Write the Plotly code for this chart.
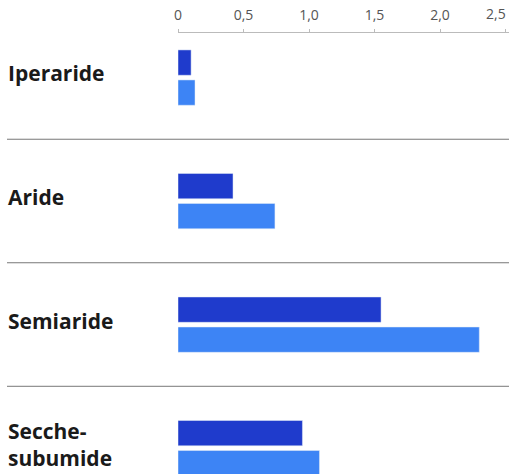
import plotly.graph_objects as go

categories = ["Iperaride", "Aride", "Semiaride", "Secche-<br>subumide"]
series_a = [0.10, 0.42, 1.55, 0.95]
series_b = [0.13, 0.74, 2.30, 1.08]
tick_vals = [0, 0.5, 1.0, 1.5, 2.0, 2.5]
tick_text = ["0", "0,5", "1,0", "1,5", "2,0", "2,5"]

dark = "#1f3bcc"
light = "#3d84f5"
tick_font = dict(family="Open Sans", size=14, color="#555555")

ypos = list(range(len(categories)))

fig = go.Figure()
fig.add_trace(go.Bar(x=series_a, y=ypos, orientation="h", marker_color=dark,
                     width=0.205, offset=-0.223, showlegend=False, hoverinfo="skip"))
fig.add_trace(go.Bar(x=series_b, y=ypos, orientation="h", marker_color=light,
                     width=0.205, offset=0.020, showlegend=False, hoverinfo="skip"))

left_px = 178
plot_w = 509 - left_px
x_lab = (6 - left_px) / plot_w
x_line = (7 - left_px) / plot_w

for i, c in enumerate(categories):
    fig.add_annotation(x=x_lab, xref="paper", y=i, yref="y", text="<b>" + c + "</b>",
                       showarrow=False, xanchor="left", yanchor="middle", align="left",
                       yshift=4,
                       font=dict(family="Open Sans", size=21, color="#1a1a1a"))
for i in range(len(categories) - 1):
    fig.add_shape(type="line", xref="paper", yref="y", x0=x_line, x1=1,
                  y0=i + 0.5, y1=i + 0.5, line=dict(color="#777777", width=1))

# last tick label is pulled inside the page edge, as in the original
axis_text = tick_text[:-1] + [""]
fig.add_annotation(x=tick_vals[-1], xref="x", y=1, yref="paper", text=tick_text[-1],
                   showarrow=False, xanchor="right", yanchor="bottom", xshift=2, yshift=8,
                   font=tick_font)

fig.update_layout(
    width=509, height=474,
    margin=dict(l=left_px, r=0, t=33, b=0, autoexpand=False),
    plot_bgcolor="white", paper_bgcolor="white",
    separators=",.",
    xaxis=dict(side="top", range=[0, plot_w / 131.0], tickvals=tick_vals, ticktext=axis_text,
               showgrid=False, zeroline=False, showline=True, linecolor="#bbbbbb", linewidth=1,
               ticks="outside", ticklen=3, tickcolor="#bbbbbb", ticklabelstandoff=3,
               automargin=False, tickfont=tick_font),
    yaxis=dict(range=[3.21, -0.36], showticklabels=False, showgrid=False, zeroline=False,
               showline=False, ticks="", automargin=False),
)

fig.write_html("out.html", config={"displayModeBar": False},
               post_script="document.body.style.margin='0';document.body.style.overflow='hidden';")
